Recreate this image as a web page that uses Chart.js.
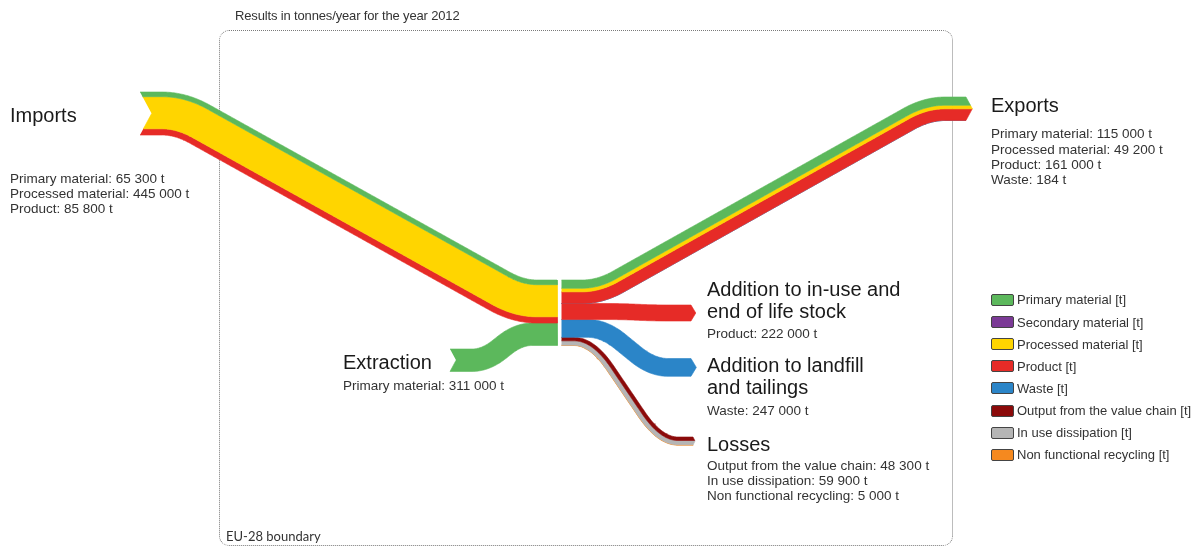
<!DOCTYPE html>
<html>
<head>
<meta charset="utf-8">
<script src="https://cdn.jsdelivr.net/npm/chart.js@4.4.0/dist/chart.umd.min.js"></script>
<style>
  html, body { margin: 0; padding: 0; background: #fff; }
  #wrap { position: relative; width: 1199px; height: 549px; overflow: hidden;
          font-family: "Liberation Sans", Arial, sans-serif; color: #222; }
  #flows { position: absolute; left: 0; top: 0; }
  .boundary { position: absolute; left: 219px; top: 30px; width: 734px; height: 516px;
              border: 1px dotted #7a7a7a; border-radius: 10px; box-sizing: border-box; }
  .lbl { position: absolute; white-space: nowrap; }
  .swatch { position: absolute; width: 21px; height: 10px; border: 1px solid #444; border-radius: 2px; }
</style>
</head>
<body>
<div id="wrap">
  <div class="boundary"></div>
  <canvas id="flows" width="1199" height="549"></canvas>
</div>
<script>
// legend categories and their colours
const materials = ['Primary material [t]', 'Secondary material [t]', 'Processed material [t]', 'Product [t]',
  'Waste [t]', 'Output from the value chain [t]', 'In use dissipation [t]', 'Non functional recycling [t]'];
const materialColors = ['#5cb85c', '#7b3a96', '#ffd500', '#e62b27', '#2b85c8', '#8b0a0a', '#b5b5b5', '#f5891f'];

// flows, tonnes/year 2012
const importLabels = ['Primary material', 'Processed material', 'Product'];
const importValues = [65300, 445000, 85800];
const exportLabels = ['Primary material', 'Processed material', 'Product', 'Waste'];
const exportValues = [115000, 49200, 161000, 184];
const extractionLabels = ['Primary material'];
const extractionValues = [311000];
const stockLabels = ['Product'];
const stockValues = [222000];
const landfillLabels = ['Waste'];
const landfillValues = [247000];
const lossLabels = ['Output from the value chain', 'In use dissipation', 'Non functional recycling'];
const lossValues = [48300, 59900, 5000];

const PX_PER_T = 0.0000722;   // band width scale
const COL_TOP = 280;          // top of the node columns in the middle
const sum = a => a.reduce((s, v) => s + v, 0);
const fmt = v => String(v).replace(/\B(?=(\d{3})+(?!\d))/g, ' ') + ' t';

// route layout of each band (x range, top of band at both ends, bend zone)
const wImp = sum(importValues) * PX_PER_T;
const wExp = sum(exportValues) * PX_PER_T;
const wStock = sum(stockValues) * PX_PER_T;
const wLand = sum(landfillValues) * PX_PER_T;
const flows = [
  { values: importValues, colors: [0, 2, 3], x0: 140, x1: 557.5, top0: 92, top1: COL_TOP, e0: 162, e1: 537, r: 0.1, notch: 0.27 },
  { values: extractionValues, colors: [0], x0: 450, x1: 557.5, top0: 349, top1: COL_TOP + wImp, e0: 472, e1: 532, r: 0.45, notch: 0.27 },
  { values: exportValues, colors: [0, 2, 3, 4], x0: 561.5, x1: 966, top0: COL_TOP, top1: 97, e0: 582, e1: 945, r: 0.1, tip: 0.27 },
  { values: stockValues, colors: [3], x0: 561.5, x1: 691, top0: COL_TOP + wExp, top1: 305, e0: 605, e1: 670, r: 0.5, tip: 0.3 },
  { values: landfillValues, colors: [4], x0: 561.5, x1: 691, top0: COL_TOP + wExp + wStock, top1: 358.5, e0: 588, e1: 668, r: 0.4, tip: 0.3 },
  { values: lossValues, colors: [5, 6, 7], x0: 561.5, x1: 693, top0: COL_TOP + wExp + wStock + wLand, top1: 437, e0: 574, e1: 678, r: 0.35, tip: 0.25 }
];

function ease(t, r) {
  const m = 1 / (1 - r);
  if (t < r) return [m * t * t / (2 * r), m * t / r];
  if (t < 1 - r) return [m * (t - r / 2), m];
  return [1 - m * (1 - t) * (1 - t) / (2 * r), m * (1 - t) / r];
}

function bandShapes(f) {
  const W = sum(f.values) * PX_PER_T, h = W / 2;
  const c0 = f.top0 + h, c1 = f.top1 + h;
  const center = x => {
    if (x <= f.e0) return [c0, 0];
    if (x >= f.e1) return [c1, 0];
    const L = f.e1 - f.e0;
    const [v, d] = ease((x - f.e0) / L, f.r);
    return [c0 + (c1 - c0) * v, (c1 - c0) / L * d];
  };
  const notchOff = s => f.notch ? f.notch * W * (1 - Math.abs(s) / h) : 0;
  const tipOff = s => f.tip ? f.tip * W * (1 - Math.abs(s) / h) : 0;
  const edge = s => {
    const xs = f.x0 + notchOff(s);
    const pts = [{ x: xs, y: c0 + s }];
    for (let x = Math.ceil(f.x0) + 1; x < f.x1; x++) {
      const [y, sl] = center(x);
      const n = Math.sqrt(1 + sl * sl);
      const p = { x: x - s * sl / n, y: y + s / n };
      if (p.x > xs && p.x < f.x1) pts.push(p);
    }
    pts.push({ x: f.x1, y: c1 + s });
    return pts;
  };
  const shapes = [];
  let s = -h;
  f.values.forEach((v, i) => {
    const sa = s, sb = s + v * PX_PER_T;
    s = sb;
    const pts = edge(sa);
    if (f.tip) {
      pts.push({ x: f.x1 + tipOff(sa), y: c1 + sa });
      if (sa < 0 && sb > 0) pts.push({ x: f.x1 + f.tip * W, y: c1 });
      pts.push({ x: f.x1 + tipOff(sb), y: c1 + sb });
    }
    pts.push(...edge(sb).reverse());
    if (f.notch && sa < 0 && sb > 0) pts.push({ x: f.x0 + f.notch * W, y: c0 });
    shapes.push({ pts, color: materialColors[f.colors[i]] });
  });
  return shapes;
}

const datasets = [];
flows.forEach(f => bandShapes(f).forEach(sh => datasets.push({
  data: sh.pts,
  fill: 'shape',
  backgroundColor: sh.color,
  borderColor: sh.color,
  borderWidth: 0.6,
  pointRadius: 0,
  tension: 0
})));

new Chart(document.getElementById('flows'), {
  type: 'line',
  data: { datasets },
  options: {
    responsive: false,
    animation: false,
    events: [],
    layout: { padding: 0 },
    scales: {
      x: { type: 'linear', min: 0, max: 1199, display: false },
      y: { type: 'linear', min: 0, max: 549, reverse: true, display: false }
    },
    plugins: { legend: { display: false }, tooltip: { enabled: false } }
  }
});

// text blocks; y is the baseline of the first line
const wrap = document.getElementById('wrap');
function label(lines, x, y, size, lh, opts = {}) {
  const d = document.createElement('div');
  d.className = 'lbl';
  d.style.left = x + 'px';
  d.style.top = (y - lh / 2 - 0.3465 * size) + 'px';
  d.style.fontSize = size + 'px';
  d.style.lineHeight = lh + 'px';
  if (opts.font) d.style.fontFamily = opts.font;
  if (opts.color) d.style.color = opts.color;
  if (opts.spacing) d.style.letterSpacing = opts.spacing;
  d.innerHTML = lines.map(t => t.replace(/&/g, '&amp;').replace(/</g, '&lt;')).join('<br>');
  wrap.appendChild(d);
}
const details = (names, vals) => names.map((n, i) => n + ': ' + fmt(vals[i]));

label(['Results in tonnes/year for the year 2012'], 235, 20, 13, 15, { spacing: '-0.15px', color: '#333' });
label(['EU-28 boundary'], 226, 541, 13, 15, { font: 'Lato, "Open Sans", sans-serif', color: '#333' });

label(['Imports'], 10, 122, 20, 22, { color: '#1a1a1a' });
label(details(importLabels, importValues), 10, 183, 13.5, 15, { color: '#333' });

label(['Exports'], 991, 112, 20, 22, { color: '#1a1a1a' });
label(details(exportLabels, exportValues), 991, 138.5, 13.5, 15.4, { color: '#333' });

label(['Extraction'], 343, 369, 20, 22, { color: '#1a1a1a' });
label(details(extractionLabels, extractionValues), 343, 390, 13.5, 15, { color: '#333' });

label(['Addition to in-use and', 'end of life stock'], 707, 296, 20, 22, { color: '#1a1a1a' });
label(details(stockLabels, stockValues), 707, 338, 13.5, 15, { color: '#333' });

label(['Addition to landfill', 'and tailings'], 707, 372, 20, 22, { color: '#1a1a1a' });
label(details(landfillLabels, landfillValues), 707, 415, 13.5, 15, { color: '#333' });

label(['Losses'], 707, 451, 20, 22, { color: '#1a1a1a' });
label(details(lossLabels, lossValues), 707, 470, 13.5, 15, { color: '#333' });

// legend
materials.forEach((m, i) => {
  const cy = 300 + 22.1 * i;
  const sw = document.createElement('div');
  sw.className = 'swatch';
  sw.style.left = '991px';
  sw.style.top = (cy - 6) + 'px';
  sw.style.background = materialColors[i];
  wrap.appendChild(sw);
  label([m], 1017, cy + 4.5, 13, 15, { color: '#333' });
});
</script>
</body>
</html>
